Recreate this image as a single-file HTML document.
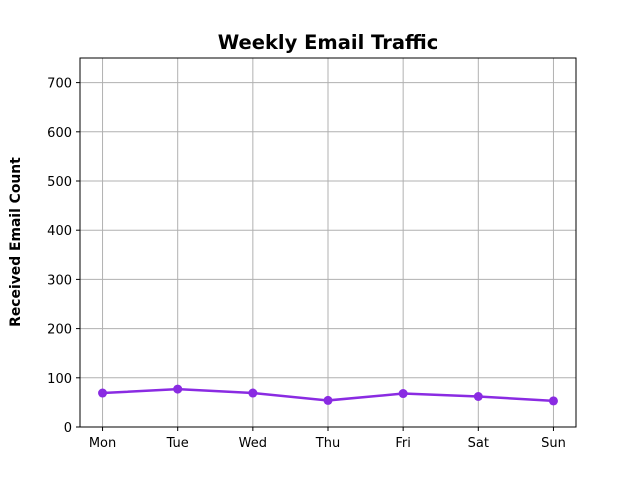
<!DOCTYPE html>
<html><head><meta charset="utf-8"><style>
body{margin:0;background:#fff;}
svg text{font-family:"DejaVu Sans","Liberation Sans",sans-serif;}
</style></head><body>
<svg id="chart" width="640" height="480" xmlns="http://www.w3.org/2000/svg">
<rect width="640" height="480" fill="#fff"/>
<text x="328" y="49" text-anchor="middle" font-size="19.5" font-weight="bold">Weekly Email Traffic</text>
<text transform="translate(20,242) rotate(-90)" text-anchor="middle" font-size="13.9" font-weight="bold">Received Email Count</text>
<g id="grid"></g><g id="ticks"></g><g id="series"></g>
<rect x="80" y="58" width="496" height="369" fill="none" stroke="#000" stroke-width="1"/>
</svg>
<script>
const categories=["Mon","Tue","Wed","Thu","Fri","Sat","Sun"];
const emailCounts=[69,77,69,54,68,62,53];
const yTicks=[0,100,200,300,400,500,600,700];
const NS="http://www.w3.org/2000/svg";
const L=80,R=576,T=58,B=427,yMax=750;
function xs(i){return L+(i+0.3)*(R-L)/(categories.length-1+0.6);}
function ys(v){return B-v/yMax*(B-T);}
function mk(t,a,p){const e=document.createElementNS(NS,t);for(const k in a)e.setAttribute(k,a[k]);p.appendChild(e);return e;}
const grid=document.getElementById('grid'),ticks=document.getElementById('ticks'),ser=document.getElementById('series');
categories.forEach((c,i)=>{
 const x=xs(i);
 const g=mk('line',{x1:x,x2:x,y1:T,y2:B,stroke:'#b0b0b0','stroke-width':1},grid);
 
 
 const tk=mk('line',{x1:x,x2:x,y1:B,y2:B+4,stroke:'#000'},ticks);
 
 
 const t=mk('text',{x:x,y:B+20,'text-anchor':'middle','font-size':13},ticks);
 t.textContent=c;
 
 
});
yTicks.forEach(v=>{
 const y=ys(v);
 const g=mk('line',{x1:L,x2:R,y1:y,y2:y,stroke:'#b0b0b0','stroke-width':1},grid);
 
 
 const tk=mk('line',{x1:L-4,x2:L,y1:y,y2:y,stroke:'#000'},ticks);
 
 
 const t=mk('text',{x:L-8,y:y+5,'text-anchor':'end','font-size':13},ticks);
 t.textContent=v;
 
 
});
const pts=emailCounts.map((v,i)=>xs(i)+','+ys(v)).join(' ');
const line=mk('polyline',{points:pts,fill:'none',stroke:'#8a2be2','stroke-width':2.5},ser);


emailCounts.forEach((v,i)=>{
 const c=mk('circle',{cx:xs(i),cy:ys(v),r:4.5,fill:'#8a2be2'},ser);
 
 
});
</script>
</body></html>
